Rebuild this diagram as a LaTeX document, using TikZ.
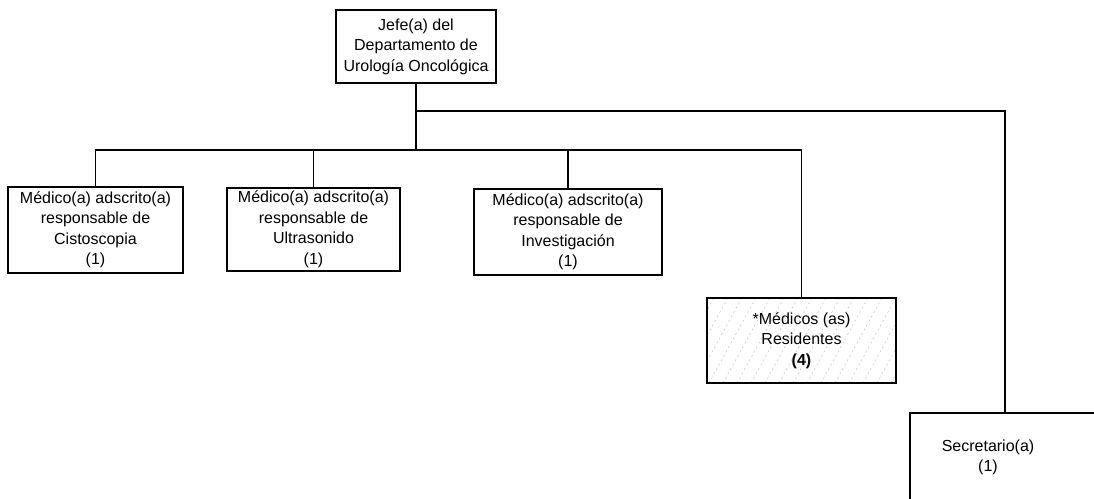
\documentclass[tikz,border=0pt]{standalone}
\usepackage{fontspec}
\setmainfont{Liberation Sans}
\usetikzlibrary{calc}
\tikzset{
  orgbox/.style={draw, line width=1.6pt, align=center, inner sep=0pt,
    font=\fontsize{16}{20.5}\selectfont},
  conn/.style={line width=1.6pt},
  hatch/.style={path picture={
    \foreach \i in {-180,-166,...,200}{
      \draw[gray!50, line width=0.45pt, dash pattern=on 2pt off 3pt]
        ($(path picture bounding box.south west)+(\i,0)$) -- ++(55,-100);
    }}}
}
\begin{document}
\begin{tikzpicture}[x=1pt,y=-1pt]
\useasboundingbox (0,0) rectangle (1094,498);
\clip (0,0) rectangle (1094,498);
\fill[white] (0,0) rectangle (1094,498);

\node[orgbox, minimum width=160, minimum height=73] (jefe) at (416,46.5)
  {Jefe(a) del\\Departamento de\\Urología Oncológica};

\node[orgbox, minimum width=175, minimum height=86] (cis) at (95.5,230)
  {Médico(a) adscrito(a)\\responsable de\\Cistoscopia\\(1)};
\node[orgbox, minimum width=173, minimum height=83] (ult) at (313.5,229.5)
  {Médico(a) adscrito(a)\\responsable de\\Ultrasonido\\(1)};
\node[orgbox, minimum width=188, minimum height=86] (inv) at (568,232)
  {Médico(a) adscrito(a)\\responsable de\\Investigación\\(1)};
\node[orgbox, hatch, minimum width=189, minimum height=85] (res) at (801.5,340.5)
  {*Médicos (as)\\Residentes\\\textbf{(4)}};

\node[orgbox, minimum width=190, minimum height=110] (sec) at (1005,468) {};
\node[align=center, inner sep=0pt, font=\fontsize{16}{20.5}\selectfont] (sectext)
  at ($(sec.center)+(-17,-10.5)$) {Secretario(a)\\(1)};

\coordinate (bus) at (416,150);
\coordinate (up) at (416,111);

\draw[conn] (jefe.south) -- (bus);
\draw[conn] (up) -| (sec.north);
\draw[conn] (bus) -| (cis.north);
\draw[conn] (bus) -| (res.north);
\draw[conn] (ult.north) |- (bus);
\draw[conn] (inv.north) |- (bus);
\end{tikzpicture}
\end{document}
